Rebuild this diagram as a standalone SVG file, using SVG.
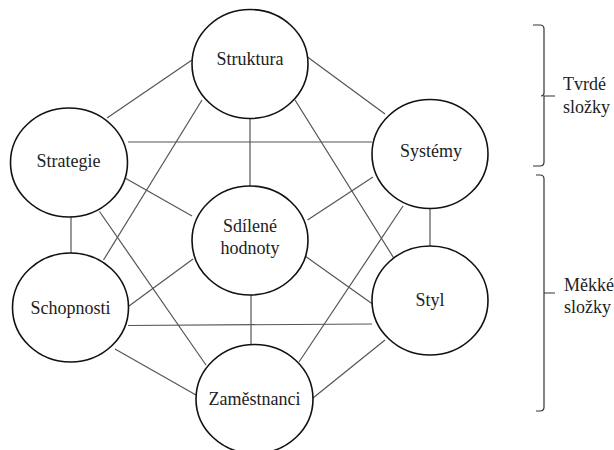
<svg xmlns="http://www.w3.org/2000/svg" width="614" height="450" viewBox="0 0 614 450">
<style>
.node ellipse{fill:#fff;stroke:#111;stroke-width:1.6}
text{font-family:'Liberation Serif','Times New Roman','DejaVu Serif',serif;font-size:18px;fill:#222}
.lbl{text-anchor:middle}
#connectors line{stroke:#555;stroke-width:1.2}
.brace{fill:none;stroke:#333;stroke-width:1.2}
</style>
<rect width="614" height="450" fill="#fff"/>
<g id="connectors">
<line x1="192" y1="60" x2="107" y2="118"/>
<line x1="307.5" y1="57" x2="385" y2="114"/>
<line x1="128" y1="142" x2="372" y2="142"/>
<line x1="71" y1="216" x2="71" y2="253"/>
<line x1="430" y1="208" x2="430" y2="246"/>
<line x1="250" y1="118" x2="250" y2="186"/>
<line x1="251" y1="295" x2="251" y2="345"/>
<line x1="128" y1="325.5" x2="372" y2="324"/>
<line x1="125" y1="178" x2="192" y2="216"/>
<line x1="373" y1="177" x2="307.5" y2="220"/>
<line x1="129" y1="306" x2="193" y2="259"/>
<line x1="372.5" y1="304" x2="305" y2="256"/>
<line x1="115" y1="349" x2="196" y2="395"/>
<line x1="385" y1="340" x2="313" y2="398"/>
<line x1="99.5" y1="211.5" x2="206" y2="365"/>
<line x1="202" y1="100" x2="103.5" y2="260"/>
<line x1="295" y1="100" x2="395" y2="260"/>
<line x1="403" y1="206" x2="299" y2="362"/>
</g>
<g id="struktura" class="node"><ellipse cx="250" cy="64" rx="58" ry="54.5"/><text class="lbl" x="250" y="65" font-family="Liberation Serif, serif">Struktura</text></g>
<g id="strategie" class="node"><ellipse cx="69" cy="162.5" rx="58.5" ry="54.5"/><text class="lbl" x="68.5" y="167" font-family="Liberation Serif, serif">Strategie</text></g>
<g id="systemy" class="node"><ellipse cx="430" cy="154" rx="58" ry="54.5"/><text class="lbl" x="431" y="157" font-family="Liberation Serif, serif">Systémy</text></g>
<g id="sdilene" class="node"><ellipse cx="250" cy="240.5" rx="58" ry="54.5"/><text class="lbl" x="250" y="232" font-family="Liberation Serif, serif">Sdílené</text><text class="lbl" x="250" y="254" font-family="Liberation Serif, serif">hodnoty</text></g>
<g id="schopnosti" class="node"><ellipse cx="70.5" cy="307.5" rx="58" ry="54.5"/><text class="lbl" x="70.5" y="314" font-family="Liberation Serif, serif">Schopnosti</text></g>
<g id="styl" class="node"><ellipse cx="430" cy="300.5" rx="58" ry="54.5"/><text class="lbl" x="430" y="306" font-family="Liberation Serif, serif">Styl</text></g>
<g id="zamestnanci" class="node"><ellipse cx="254.5" cy="399" rx="58.5" ry="54.5"/><text class="lbl" x="254.5" y="405" font-family="Liberation Serif, serif">Zaměstnanci</text></g>
<g id="tvrde">
<path class="brace" d="M533,25 L540,25 Q544,25 544,29 L544,93 Q544,96 541,96 M544,96 L555,96 M544,96 Q544,99 544,100 L544,162 Q544,166 540,166 L533,166"/>
<text x="563" y="90">Tvrdé</text>
<text x="563" y="113">složky</text>
</g>
<g id="mekke">
<path class="brace" d="M536,175 L540,175 Q544,175 544,179 L544,293 M544,293 L555,293 M544,293 L544,407 Q544,411 540,411 L536,411"/>
<text x="564" y="290.5">Měkké</text>
<text x="564" y="313">složky</text>
</g>
</svg>
